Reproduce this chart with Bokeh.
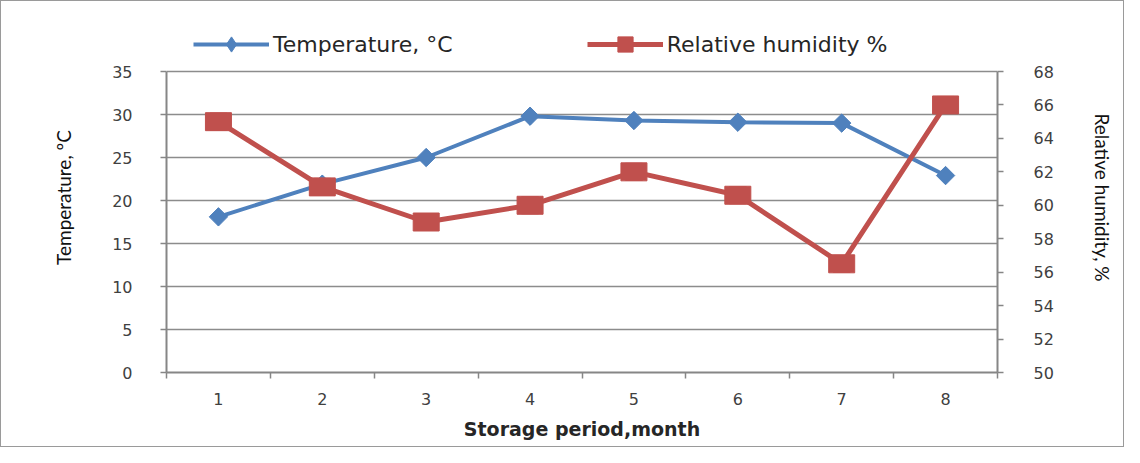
import math
from bokeh.plotting import figure
from bokeh.models import Range1d, LinearAxis, FixedTicker, Legend, LegendItem
from bokeh.embed import file_html
from bokeh.resources import INLINE

months = [1, 2, 3, 4, 5, 6, 7, 8]
month_labels = ["1", "2", "3", "4", "5", "6", "7", "8"]
temperature = [18.1, 21.9, 25.0, 29.8, 29.3, 29.1, 29.0, 22.9]
humidity = [65.0, 61.1, 59.0, 60.0, 62.0, 60.6, 56.5, 66.0]
temp_ticks = [0, 5, 10, 15, 20, 25, 30, 35]
rh_ticks = [50, 52, 54, 56, 58, 60, 62, 64, 66, 68]

BLUE = "#4F81BD"
RED = "#C0504D"
AXIS = "#868686"
TEXT = "#404040"

# layout: frame is taller than the axes so the legend can sit above the data
FRAME_H = 350     # px, full frame height
AXIS_H = 301      # px, height used by the axes (0..35 / 50..68)
LEG_H = 38        # px, legend row height
t_lo, t_hi = temp_ticks[0], temp_ticks[-1]
r_lo, r_hi = rh_ticks[0], rh_ticks[-1]
t_top = t_lo + (t_hi - t_lo) * FRAME_H / AXIS_H
r_top = r_lo + (r_hi - r_lo) * FRAME_H / AXIS_H

p = figure(width=1124, height=447, output_backend="svg", toolbar_location=None,
           x_range=Range1d(0.5, 8.5), y_range=Range1d(t_lo, t_top),
           min_border_left=165, min_border_right=128, min_border_top=21,
           min_border_bottom=76)
p.extra_y_ranges = {"rh": Range1d(r_lo, r_top)}
p.outline_line_color = None
p.styles = {"border": "1.5px solid #9a9a9a", "box-sizing": "border-box"}

p.xgrid.grid_line_color = None
p.ygrid.grid_line_color = "#8c8c8c"
p.ygrid.grid_line_width = 1.5
p.ygrid.ticker = FixedTicker(ticks=temp_ticks)

# x axis
xa = p.xaxis[0]
xa.ticker = FixedTicker(ticks=months, minor_ticks=[m + 0.5 for m in [0] + months])
xa.major_label_overrides = {m: l for m, l in zip(months, month_labels)}
xa.major_tick_line_color = None
xa.minor_tick_line_color = AXIS
xa.minor_tick_out = 6
xa.minor_tick_in = 0
xa.minor_tick_line_width = 1.5
xa.axis_line_color = AXIS
xa.axis_line_width = 2
xa.major_label_text_font = "DejaVu Sans"
xa.major_label_text_font_size = "16px"
xa.major_label_text_color = TEXT
xa.major_label_standoff = 14
xa.axis_label = "Storage period,month"
xa.axis_label_text_font = "DejaVu Sans"
xa.axis_label_text_font_style = "bold"
xa.axis_label_text_font_size = "19px"
xa.axis_label_text_color = "#262626"
xa.axis_label_standoff = 10

# left y axis
ya = p.yaxis[0]
ya.ticker = FixedTicker(ticks=temp_ticks)
ya.bounds = (t_lo, t_hi)
ya.minor_tick_line_color = None
ya.major_tick_line_color = AXIS
ya.major_tick_out = 6
ya.major_tick_in = 0
ya.major_tick_line_width = 1.5
ya.axis_line_color = AXIS
ya.axis_line_width = 2
ya.major_label_text_font = "DejaVu Sans"
ya.major_label_text_font_size = "16px"
ya.major_label_text_color = TEXT
ya.major_label_standoff = 28
ya.axis_label = "Temperature, \u00baC"
ya.axis_label_text_font = "Lato"
ya.axis_label_text_font_style = "normal"
ya.axis_label_text_font_size = "19px"
ya.axis_label_text_color = "#111111"
ya.axis_label_standoff = 34

# right y axis
ra = LinearAxis(y_range_name="rh", ticker=FixedTicker(ticks=rh_ticks))
ra.bounds = (r_lo, r_hi)
ra.minor_tick_line_color = None
ra.major_tick_line_color = AXIS
ra.major_tick_out = 6
ra.major_tick_in = 0
ra.major_tick_line_width = 1.5
ra.axis_line_color = AXIS
ra.axis_line_width = 2
ra.major_label_text_font = "DejaVu Sans"
ra.major_label_text_font_size = "16px"
ra.major_label_text_color = TEXT
ra.major_label_standoff = 30
ra.axis_label = "Relative humidity, %"
ra.axis_label_text_font = "Lato"
ra.axis_label_text_font_style = "normal"
ra.axis_label_text_font_size = "19px"
ra.axis_label_text_color = "#111111"
ra.axis_label_standoff = 34
p.add_layout(ra, "right")

# series
t_line = p.line(months, temperature, line_color=BLUE, line_width=4)
# diamond markers (used by the legend), covered by wider rotated squares on the plot
t_leg = p.scatter(months, temperature, marker="diamond", size=17,
                  fill_color=BLUE, line_color=BLUE)
p.scatter(months, temperature, marker="square", angle=math.pi / 4, size=13,
          fill_color=BLUE, line_color=BLUE)
h_line = p.line(months, humidity, line_color=RED, line_width=5, y_range_name="rh")
h_pts = p.scatter(months, humidity, marker="square", size=17,
                  fill_color=RED, line_color=RED, y_range_name="rh")
# slightly wider squares as in the reference (drawn over the scatter squares)
p.rect(months, humidity, width=26, height=18, width_units="screen",
       height_units="screen", fill_color=RED, line_color=RED, y_range_name="rh")

legend = Legend(items=[
    LegendItem(label="Temperature, \u00b0C", renderers=[t_line, t_leg]),
    LegendItem(label="Relative humidity %", renderers=[h_line, h_pts]),
], orientation="horizontal", location=(27, FRAME_H - LEG_H - 3))
legend.border_line_color = None
legend.background_fill_alpha = 0
legend.padding = 0
legend.margin = 0
legend.glyph_width = 76
legend.glyph_height = LEG_H
legend.label_standoff = 4
legend.spacing = 134
legend.label_text_font = "DejaVu Sans"
legend.label_text_font_size = "22px"
legend.label_text_color = "#262626"
legend.label_height = LEG_H
p.add_layout(legend, "center")

open("out.html", "w").write(file_html(p, INLINE))
